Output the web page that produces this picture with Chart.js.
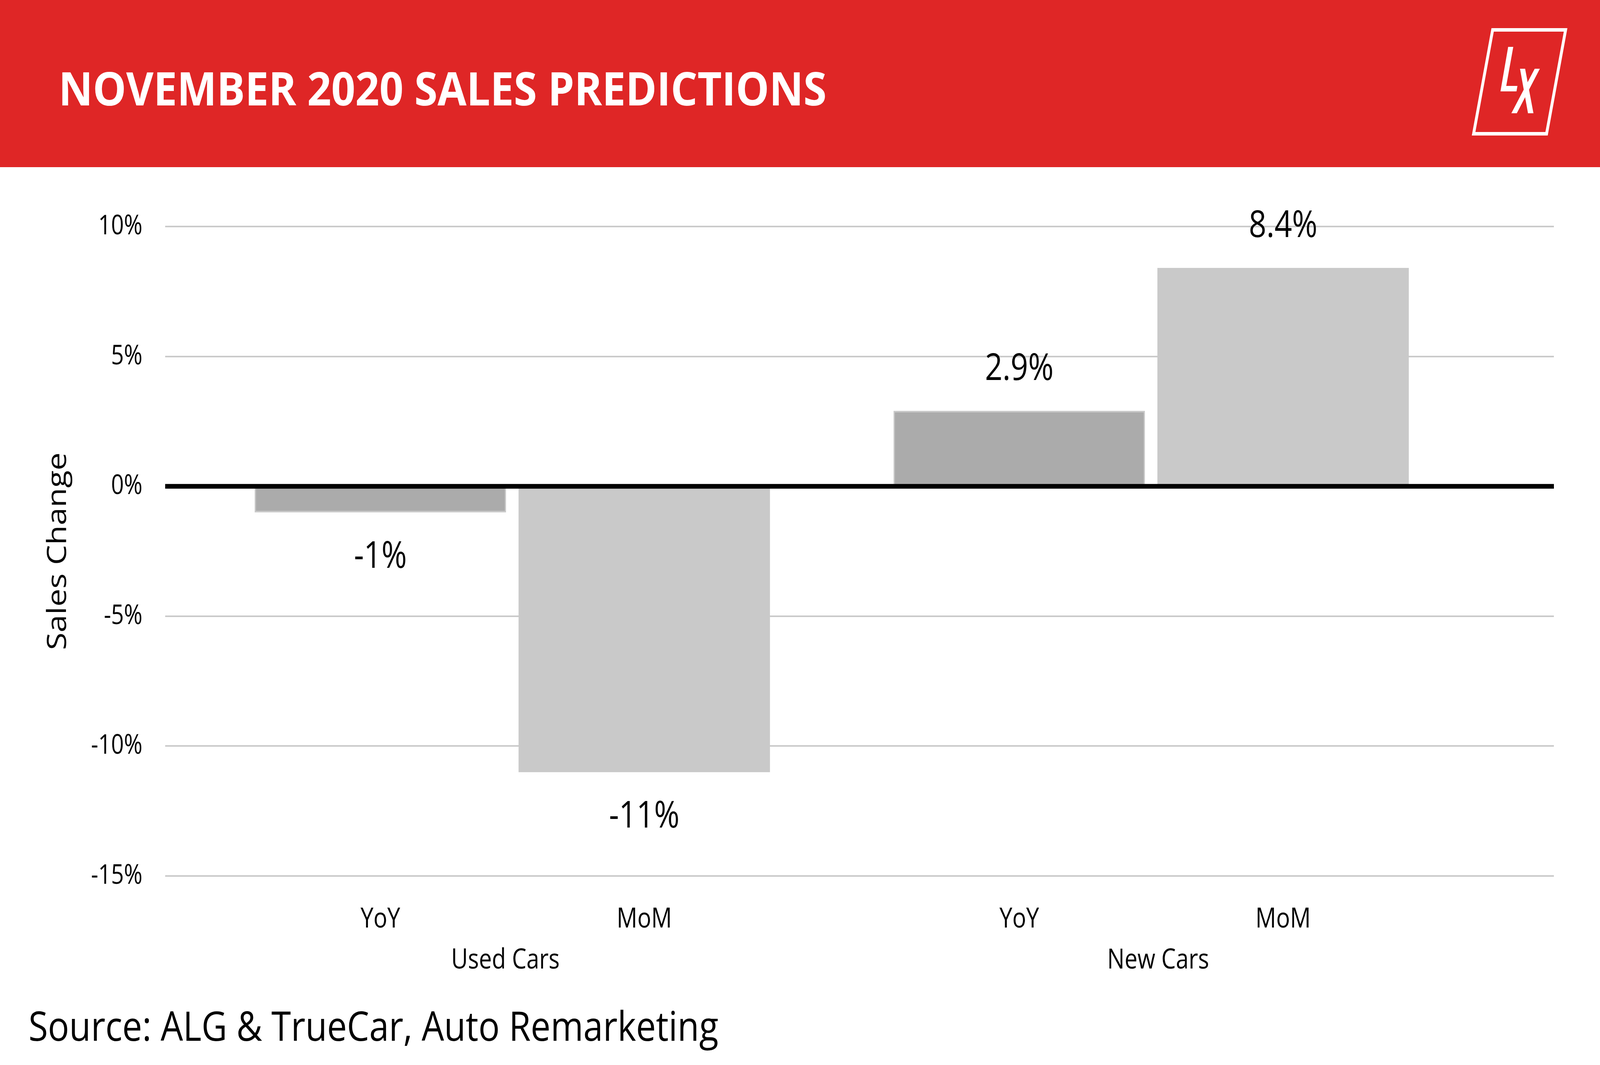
<!DOCTYPE html>
<html>
<head>
<meta charset="utf-8">
<script src="https://cdn.jsdelivr.net/npm/chart.js@4.4.1/dist/chart.umd.min.js"></script>
<style>
  html, body { margin: 0; padding: 0; background: #fff; overflow: hidden; }
  #page { position: absolute; left: 0; top: 0; width: 5000px; height: 2727px; transform-origin: 0 0; }
  #deco { position: absolute; left: 0; top: 0; }
  #cv { position: absolute; left: 0; top: 428px; }
</style>
</head>
<body>
<div id="page">
  <svg id="deco" width="5000" height="2727" viewBox="0 0 5000 2727">
    <rect x="0" y="0" width="5000" height="428" fill="#DF2626"/>
    <text x="183" y="270" font-family="Open Sans" font-weight="700" font-size="119" fill="#ffffff"
          textLength="2400" lengthAdjust="spacingAndGlyphs">NOVEMBER 2020 SALES PREDICTIONS</text>
    <polygon points="4664.5,76.5 4892.5,76.5 4833,342.5 4605,342.5" fill="none" stroke="#ffffff" stroke-width="9"/>
    <polygon points="4713,120 4729,120 4707,220 4742,220 4739,234 4689,234" fill="#ffffff"/>
    <polygon points="4750,176 4766,176 4792,290 4775,290" fill="#ffffff"/>
    <polygon points="4796,176 4812,176 4740,290 4723,290" fill="#ffffff"/>
    <text x="89" y="2665" font-family="Open Sans" font-weight="500" font-size="105" fill="#000000"
          textLength="2156" lengthAdjust="spacingAndGlyphs">Source: ALG &amp; TrueCar, Auto Remarketing</text>
  </svg>
  <canvas id="cv" width="5000" height="2299" style="width:5000px;height:2299px"></canvas>
</div>
<script>
// ---- data ----
const categories = ['YoY', 'MoM', 'YoY', 'MoM'];
const groups = ['Used Cars', 'Used Cars', 'New Cars', 'New Cars'];
const values = [-1, -11, 2.9, 8.4];
const yTickValues = [-15, -10, -5, 0, 5, 10];
const yAxisTitle = 'Sales Change';

// ---- fit the 5000x2727 design to the actual viewport ----
document.getElementById('page').style.transform =
  'scale(' + (window.innerWidth / 5000) + ',' + (window.innerHeight / 2727) + ')';

// ---- layout: slot positions along the category axes ----
const SLOT_COUNT = 100;
const barSlots = [15, 34, 61, 80];
const groupSlots = { 'Used Cars': 24, 'New Cars': 71 };

const slotLabels = new Array(SLOT_COUNT).fill('');
const slotValues = new Array(SLOT_COUNT).fill(null);
const slotFill = new Array(SLOT_COUNT).fill('#C9C9C9');
const slotBorder = new Array(SLOT_COUNT).fill('#C9C9C9');
const slotBorderW = new Array(SLOT_COUNT).fill(0);
categories.forEach((c, i) => {
  const s = barSlots[i];
  slotLabels[s] = c;
  slotValues[s] = values[i];
  if (c === 'YoY') { slotFill[s] = '#ABABAB'; slotBorder[s] = '#C9C9C9'; slotBorderW[s] = 4; }
});
const groupLabels = new Array(SLOT_COUNT).fill('');
[...new Set(groups)].forEach(g => { groupLabels[groupSlots[g]] = g; });

const fmtPct = v => (Math.round(v * 10) / 10) + '%';

const zeroLine = {
  id: 'zeroLine',
  afterDatasetsDraw(chart) {
    const { ctx, chartArea: a, scales: { y } } = chart;
    const py = y.getPixelForValue(0);
    ctx.save();
    ctx.strokeStyle = '#000';
    ctx.lineWidth = 12;
    ctx.beginPath();
    ctx.moveTo(a.left, py);
    ctx.lineTo(a.right, py);
    ctx.stroke();
    ctx.restore();
  }
};

const valueLabels = {
  id: 'valueLabels',
  afterDatasetsDraw(chart) {
    const { ctx } = chart;
    const meta = chart.getDatasetMeta(0);
    const data = chart.data.datasets[0].data;
    ctx.save();
    ctx.font = '96px "Open Sans"';
    ctx.fillStyle = '#000';
    ctx.textAlign = 'center';
    ctx.textBaseline = 'middle';
    meta.data.forEach((el, i) => {
      const v = data[i];
      if (v === null || v === undefined) return;
      const ty = v >= 0 ? el.y - 107 : el.y + 115;
      ctx.fillText(fmtPct(v), el.x, ty);
    });
    ctx.restore();
  }
};

Chart.defaults.font.family = 'Open Sans';
Chart.defaults.color = '#000';

new Chart(document.getElementById('cv'), {
  type: 'bar',
  data: {
    labels: slotLabels,
    datasets: [{
      data: slotValues,
      backgroundColor: slotFill,
      borderColor: slotBorder,
      borderWidth: slotBorderW,
      borderSkipped: false,
      barThickness: 785
    }]
  },
  options: {
    responsive: false,
    animation: false,
    devicePixelRatio: 1,
    layout: { padding: { left: 0, right: 144, top: 152, bottom: 184 } },
    plugins: { legend: { display: false }, tooltip: { enabled: false } },
    scales: {
      x: {
        type: 'category',
        grid: { display: false, drawTicks: false },
        border: { display: false },
        ticks: { autoSkip: false, maxRotation: 0, minRotation: 0, padding: 68, color: '#000',
                 font: { family: 'Open Sans', size: 72 } },
        afterFit: s => { s.height = 160; }
      },
      x2: {
        type: 'category',
        labels: groupLabels,
        position: 'bottom',
        weight: 1,
        grid: { display: false, drawTicks: false },
        border: { display: false },
        ticks: { autoSkip: false, maxRotation: 0, minRotation: 0, padding: 13, color: '#000',
                 font: { family: 'Open Sans', size: 72 } },
        afterFit: s => { s.height = 140; }
      },
      y: {
        min: Math.min(...yTickValues),
        max: Math.max(...yTickValues),
        afterBuildTicks: s => { s.ticks = yTickValues.map(v => ({ value: v })); },
        ticks: { padding: 71, color: '#000', callback: v => v + '%',
                 font: { family: 'Open Sans', size: 70 } },
        grid: { color: '#CACACA', lineWidth: 4, drawTicks: false },
        border: { display: false },
        title: { display: true, text: yAxisTitle, color: '#000',
                 font: { family: 'Open Sans', size: 82 }, padding: { top: 133, bottom: 0 } },
        afterFit: s => { s.width = 516; }
      }
    }
  },
  plugins: [zeroLine, valueLabels]
});
</script>
</body>
</html>
